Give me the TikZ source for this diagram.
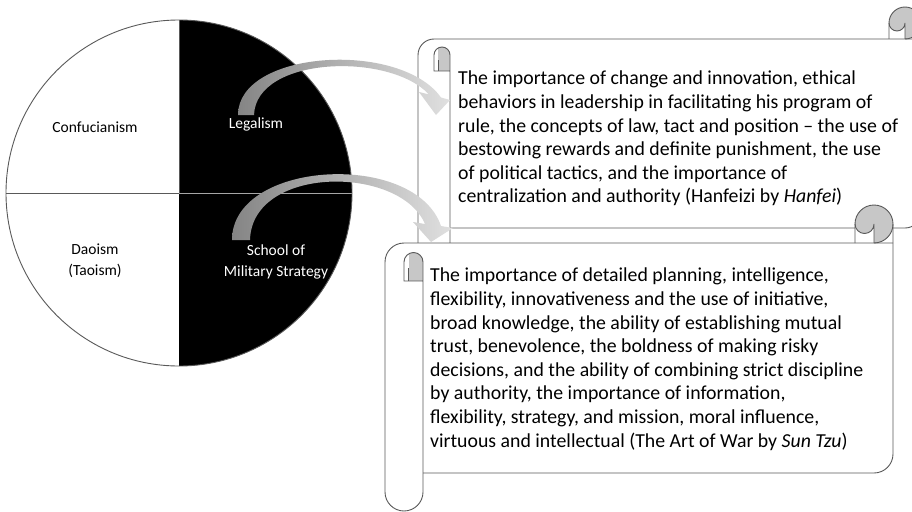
\documentclass[tikz,border=0pt]{standalone}
\usepackage{fontspec}
\setmainfont{Carlito}

\colorlet{rollgrau}{black!22}

% Schriftrolle: #1 links, #2 oben, #3 rechts, #4 unten, #5 Rollendicke
\newcommand{\schriftrolle}[5]{%
  \fill[white] ({#1},{-#2-#5/2}) arc[start angle=180, end angle=90, radius=#5/2]
    -- ({#3},{-#2}) -- ({#3},{-#4+#5/2}) arc[start angle=0, end angle=-90, radius=#5/2]
    -- ({#1+#5},{-#4}) -- ({#1+#5},{-#4-#5/2}) arc[start angle=0, end angle=-180, radius=#5/2] -- cycle;
  \fill[rollgrau] ({#3-#5/2},{-#2+#5/2}) circle[radius=#5/2];
  \fill[white] ({#3-#5},{-#2+#5/2}) rectangle ({#3-#5/2},{-#2});
  \fill[rollgrau] ({#3-#5},{-#2+#5/2}) arc[start angle=180, end angle=360, radius=#5/4] -- cycle;
  \begin{scope}
    \clip ({#1+#5/2},{-#2-#5}) -- ({#1+#5/2},{-#2-#5/2}) arc[start angle=180, end angle=0, radius=#5/4]
      -- ({#1+#5},{-#2-#5}) -- cycle;
    \fill[rollgrau] ({#1+5*#5/8},{-#2}) rectangle ({#1+#5},{-#2-#5});
  \end{scope}
  \draw[linie] ({#1},{-#2-#5/2}) arc[start angle=180, end angle=90, radius=#5/2] -- ({#3},{-#2});
  \draw[linie] ({#3},{-#2+#5/2}) -- ({#3},{-#4+#5/2}) arc[start angle=0, end angle=-90, radius=#5/2] -- ({#1+#5},{-#4});
  \draw[linie] ({#1},{-#2-#5/2}) -- ({#1},{-#4-#5/2}) arc[start angle=180, end angle=360, radius=#5/2]
    -- ({#1+#5},{-#2-#5/2}) arc[start angle=0, end angle=180, radius=#5/4]
    -- ({#1+#5/2},{-#2-#5}) -- ({#1+#5},{-#2-#5});
  \draw[linie] ({#1+5*#5/8},{-#2-#5}) -- ({#1+5*#5/8},{-#2-#5/2-#5/6});
  \draw[linie] ({#3-#5},{-#2}) -- ({#3-#5},{-#2+#5/2}) arc[start angle=180, end angle=-90, radius=#5/2];
  \draw[linie] ({#3-#5},{-#2+#5/2}) arc[start angle=180, end angle=360, radius=#5/4] -- ({#3-#5/2},{-#2});
}

\begin{document}
\begin{tikzpicture}[
    x=1pt, y=1pt,
    linie/.style={draw=black!65, line width=0.9pt},
    kreistext/.style={font=\fontsize{15.5}{21}\selectfont, align=center, inner sep=0pt},
    rollentext/.style={font=\fontsize{19.8}{23.6}\selectfont, align=left,
                       anchor=north west, inner sep=0pt},
    pfeil/.style={left color=black!48, right color=black!12}
]
\useasboundingbox (0,0) rectangle (912,-511);
\clip (0,0) rectangle (912,-511);

% Kreis mit vier Schulen
\fill[white] (179,-193) circle[radius=173];
\fill[black] (179,-20) arc[start angle=90, end angle=-90, radius=173] -- cycle;
\draw[linie] (6,-193) -- (179,-193) -- (179,-20);
\draw[black!35, line width=0.6pt] (179,-193) -- (352,-193);
\draw[linie] (179,-193) circle[radius=173];

\node[kreistext] (konf) at (95,-127) {Confucianism};
\node[kreistext, text=white] (legal) at (256,-124) {Legalism};
\node[kreistext] (dao) at (95,-261) {Daoism\\(Taoism)};
\node[kreistext, text=white] (militaer) at (276,-262) {School of\\Military Strategy};

% obere Rolle
\schriftrolle{418}{39}{921}{228}{32}
\node[rollentext] (legaltext) at (458,-71) {The importance of change and innovation, ethical\\
behaviors in leadership in facilitating his program of\\
rule, the concepts of law, tact and position -- the use of\\
bestowing rewards and definite punishment, the use\\
of political tactics, and the importance of\\
centralization and authority (Hanfeizi by \textit{Hanfei})};

% untere Rolle
\schriftrolle{385}{243}{893}{473}{38}
\node[rollentext] (militaertext) at (430,-268) {The importance of detailed planning, intelligence,\\
flexibility, innovativeness and the use of initiative,\\
broad knowledge, the ability of establishing mutual\\
trust, benevolence, the boldness of making risky\\
decisions, and the ability of combining strict discipline\\
by authority, the importance of information,\\
flexibility, strategy, and mission, moral influence,\\
virtuous and intellectual (The Art of War by \textit{Sun Tzu})};

% gebogene Pfeile
\shade[pfeil] (238,-115) .. controls (238,-50) and (400,-40) .. (441,-97.5)
  -- (450,-100) -- (436,-115) -- (419,-92) -- (429,-94.5)
  .. controls (390,-52) and (256,-56) .. (254,-115) -- cycle;
\shade[pfeil] (232,-240) .. controls (232,-160) and (415,-150) .. (441,-226)
  -- (453,-228) -- (431,-242) -- (413,-222) -- (425,-224)
  .. controls (400,-165) and (252,-165) .. (250,-240) -- cycle;

\end{tikzpicture}
\end{document}
